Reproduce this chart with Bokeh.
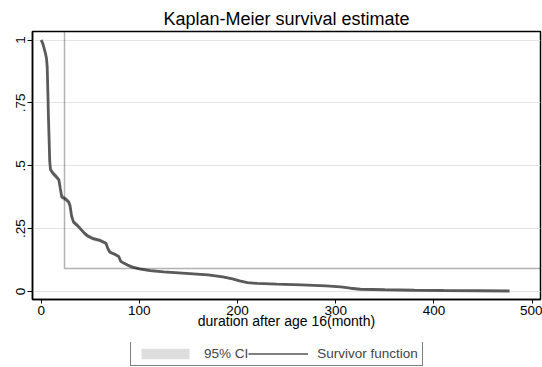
from bokeh.plotting import figure
from bokeh.models import Range1d, FixedTicker, Legend, LegendItem, ColumnDataSource, BoxAnnotation
from bokeh.layouts import column
from bokeh.embed import file_html
from bokeh.resources import INLINE

# Kaplan-Meier survival estimate
times = [0, 1.3, 2.5, 3.5, 4.5, 5.5, 6.2, 6.8, 7.4, 8.0,
         8.7, 9.5, 12, 15, 18, 19.5, 21, 24, 28, 29.5,
         31, 33, 37, 41.5, 44, 47, 53, 60, 66, 68,
         70, 75, 79, 81, 84, 88, 93, 100, 111, 125,
         140, 155, 170, 185, 195, 202, 210, 220, 240, 265,
         290, 305, 315, 325, 350, 380, 410, 445, 477]
survival = [1.0, 0.99, 0.975, 0.96, 0.945, 0.925, 0.89, 0.80, 0.70, 0.62,
            0.52, 0.485, 0.47, 0.458, 0.445, 0.41, 0.376, 0.37, 0.357, 0.34,
            0.30, 0.276, 0.262, 0.243, 0.232, 0.222, 0.21, 0.203, 0.192, 0.17,
            0.156, 0.148, 0.139, 0.12, 0.113, 0.105, 0.097, 0.09, 0.083, 0.078,
            0.074, 0.07, 0.066, 0.058, 0.05, 0.042, 0.035, 0.032, 0.029, 0.026,
            0.022, 0.018, 0.013, 0.009, 0.007, 0.005, 0.004, 0.003, 0.002]
ci_lower = [1.0, 0.985, 0.968, 0.952, 0.936, 0.915, 0.879, 0.788, 0.688, 0.608,
            0.508, 0.473, 0.458, 0.446, 0.433, 0.398, 0.365, 0.359, 0.346, 0.329,
            0.29, 0.266, 0.252, 0.234, 0.223, 0.213, 0.202, 0.195, 0.184, 0.163,
            0.149, 0.141, 0.133, 0.114, 0.107, 0.1, 0.092, 0.085, 0.078, 0.074,
            0.07, 0.066, 0.062, 0.054, 0.046, 0.039, 0.032, 0.029, 0.026, 0.023,
            0.02, 0.016, 0.011, 0.007, 0.005, 0.004, 0.003, 0.002, 0.001]
ci_upper = [1.0, 0.995, 0.982, 0.968, 0.954, 0.935, 0.901, 0.812, 0.712, 0.632,
            0.532, 0.497, 0.482, 0.47, 0.457, 0.422, 0.387, 0.381, 0.368, 0.351,
            0.31, 0.286, 0.272, 0.252, 0.241, 0.231, 0.218, 0.211, 0.2, 0.177,
            0.163, 0.155, 0.145, 0.126, 0.119, 0.11, 0.102, 0.095, 0.088, 0.082,
            0.078, 0.074, 0.07, 0.062, 0.054, 0.045, 0.038, 0.035, 0.032, 0.029,
            0.024, 0.02, 0.015, 0.011, 0.009, 0.006, 0.005, 0.004, 0.003]

x_ticks = [0, 100, 200, 300, 400, 500]
y_ticks = [0, 0.25, 0.5, 0.75, 1]
y_tick_labels = ["0", ".25", ".5", ".75", "1"]

FONT = "Liberation Sans"

src = ColumnDataSource(dict(t=times, s=survival, lo=ci_lower, hi=ci_upper))

xr = Range1d(-8.8, 508.5)
yr = Range1d(-0.0318, 1.0338)
p = figure(width=542, height=342, output_backend="svg", toolbar_location=None,
           min_border_left=32, min_border_right=2, min_border_top=31,
           min_border_bottom=43, x_range=xr, y_range=yr,
           title="Kaplan-Meier survival estimate")

p.title.text_font = FONT
p.title.text_font_size = "18px"
p.title.text_font_style = "normal"
p.title.align = "center"
p.title.standoff = 5
p.title.text_color = "black"

p.outline_line_color = "black"
p.outline_line_width = 1.5
p.background_fill_color = "white"
p.border_fill_color = "white"

p.xgrid.grid_line_color = None
p.ygrid.grid_line_color = "#e4e4e4"
p.ygrid.grid_line_width = 1

p.xaxis.ticker = FixedTicker(ticks=x_ticks)
p.yaxis.ticker = FixedTicker(ticks=y_ticks)
p.yaxis.major_label_overrides = {t: l for t, l in zip(y_ticks, y_tick_labels)}
p.yaxis.major_label_orientation = "vertical"

for ax in (p.xaxis[0], p.yaxis[0]):
    ax.axis_line_color = "black"
    ax.axis_line_width = 1.5
    ax.major_tick_line_color = "black"
    ax.major_tick_in = 0
    ax.minor_tick_line_color = None
    ax.major_label_text_font = FONT
    ax.major_label_text_font_size = "13.5px"
    ax.major_label_text_color = "black"
    ax.major_label_standoff = 2
p.xaxis.major_tick_out = 4
p.yaxis.major_tick_out = 5
p.xaxis.axis_label = "duration after age 16(month)"
p.xaxis.axis_label_text_font = FONT
p.xaxis.axis_label_text_font_size = "14px"
p.xaxis.axis_label_text_font_style = "normal"
p.xaxis.axis_label_text_color = "black"
p.xaxis.axis_label_standoff = -5

# frame border: a box in screen units around the plot frame
p.add_layout(BoxAnnotation(left=32, right=539, top=31, bottom=299,
                           left_units="screen", right_units="screen",
                           top_units="screen", bottom_units="screen",
                           fill_alpha=0, line_color="black", line_width=1.5,
                           level="overlay"))

p.varea(x="t", y1="lo", y2="hi", source=src, fill_color="#d4d4d4")
p.line(x="t", y="s", source=src, line_color="#5a5a5a", line_width=2.8)

# legend strip below the chart
lg = figure(width=542, height=25, output_backend="svg", toolbar_location=None,
            min_border=0, x_axis_location=None, y_axis_location=None,
            outline_line_color=None, x_range=Range1d(0, 1), y_range=Range1d(0, 1))
lg.xgrid.grid_line_color = None
lg.ygrid.grid_line_color = None
band_key = lg.varea(x="t", y1="lo", y2="hi", source=src, fill_color="#dedede", visible=False)
line_key = lg.line(x="t", y="s", source=src, line_color="black", line_width=1, visible=False)

legend = Legend(items=[LegendItem(label="95% CI", renderers=[band_key]),
                       LegendItem(label="Survivor function", renderers=[line_key])],
                orientation="horizontal", location=(98, 1),
                border_line_color="black", border_line_width=1.5,
                label_text_font=FONT, label_text_font_size="13.5px",
                glyph_width=60, glyph_height=13, label_standoff=9,
                label_height=13, spacing=0, padding=4, margin=0,
                background_fill_color="white", background_fill_alpha=1)
lg.add_layout(legend, "center")

open("out.html", "w").write(file_html(column(p, lg, spacing=0), INLINE))
